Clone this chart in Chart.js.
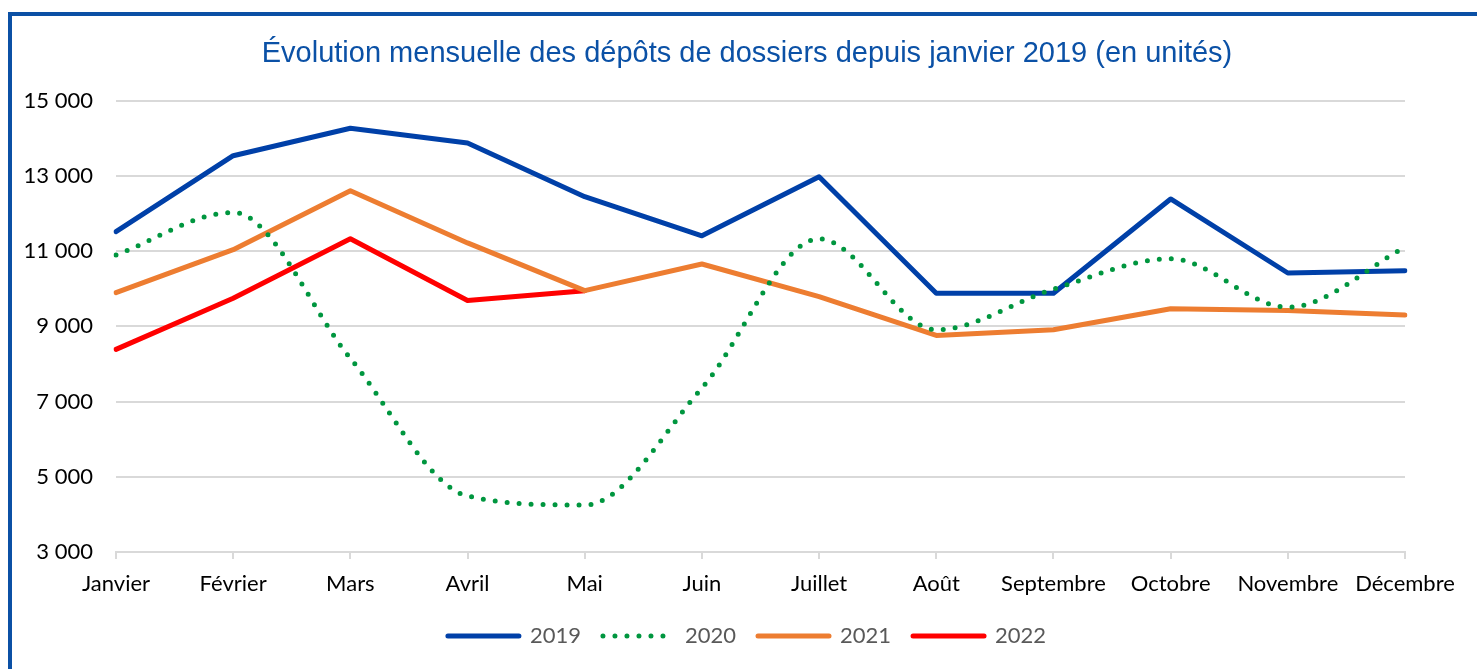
<!DOCTYPE html>
<html lang="fr">
<head>
<meta charset="utf-8">
<title>Dépôts de dossiers</title>
<script src="https://cdn.jsdelivr.net/npm/chart.js@4.4.1/dist/chart.umd.min.js"></script>
<style>
  html, body { margin: 0; padding: 0; background: #fff; overflow: hidden; }
  #frame { position: absolute; left: 8px; top: 12px; width: 1600px; height: 800px; border: 4px solid #0B50A5; box-sizing: border-box; }
  #wrap { position: absolute; left: 0; top: 0; width: 1477px; height: 669px; }
</style>
</head>
<body>
<div id="frame"></div>
<div id="wrap"><canvas id="line-chart"></canvas></div>
<script>
var months = ["Janvier", "Février", "Mars", "Avril", "Mai", "Juin", "Juillet", "Août", "Septembre", "Octobre", "Novembre", "Décembre"];
var values2019 = [11520, 13540, 14270, 13880, 12450, 11410, 12980, 9880, 9880, 12390, 10420, 10480];
var values2020 = [10900, 12030, 8150, 4490, 4250, 7360, 11330, 8910, 9990, 10800, 9510, 11100];
var values2021 = [9900, 11040, 12610, 11220, 9950, 10660, 9790, 8760, 8910, 9470, 9420, 9300];
var values2022 = [8390, 9750, 11330, 9690, 9950];
var yMin = 3000;
var yMax = 15000;
var yStep = 2000;

var axisFont = { family: "Lato", size: 22 };

function formatNumber(v) {
  return String(v).replace(/\B(?=(\d{3})+(?!\d))/g, " ");
}

function lineSet(label, data, color) {
  return {
    label: label,
    data: data,
    borderColor: color,
    backgroundColor: color,
    borderWidth: 5,
    borderJoinStyle: "round",
    borderCapStyle: "round",
    pointRadius: 0,
    pointHoverRadius: 0,
    fill: false,
    tension: 0,
    order: 1
  };
}

var set2020 = lineSet("2020", values2020, "#00963F");
set2020.borderDash = [0, 12];
set2020.cubicInterpolationMode = "monotone";
set2020.order = 0;

// the y labels sit left of the layout padding, so widen the y scale box for its clip
var yLabelRoom = {
  id: "yLabelRoom",
  afterLayout: function (c) {
    var y = c.scales.y;
    y.left = 0;
    y.width = y.right;
  }
};

var chart = new Chart(document.getElementById("line-chart"), {
  type: "line",
  data: {
    labels: months,
    datasets: [
      lineSet("2019", values2019, "#0040A8"),
      set2020,
      lineSet("2021", values2021, "#ED7D31"),
      lineSet("2022", values2022, "#FF0000")
    ]
  },
  plugins: [yLabelRoom],
  options: {
    responsive: true,
    maintainAspectRatio: false,
    animation: false,
    layout: { padding: { left: 89, right: 72, top: 0, bottom: 12 } },
    plugins: {
      title: {
        display: true,
        text: "Évolution mensuelle des dépôts de dossiers depuis janvier 2019 (en unités)",
        color: "#0B51A6",
        font: { family: "Liberation Sans", size: 29, weight: "normal" },
        padding: { top: 37, bottom: 29 }
      },
      legend: {
        position: "bottom",
        labels: {
          usePointStyle: true,
          pointStyle: "line",
          pointStyleWidth: 71,
          color: "#595959",
          font: axisFont,
          padding: 22,
          sort: function (a, b) { return a.datasetIndex - b.datasetIndex; },
          generateLabels: function (c) {
            var items = Chart.defaults.plugins.legend.labels.generateLabels(c);
            items.forEach(function (it) {
              var ds = c.data.datasets[it.datasetIndex];
              it.lineDash = ds.borderDash || [];
              it.lineCap = ds.borderCapStyle;
              it.lineWidth = ds.borderWidth;
              it.strokeStyle = ds.borderColor;
              it.fillStyle = ds.borderColor;
            });
            return items;
          }
        }
      },
      tooltip: { enabled: false }
    },
    scales: {
      x: {
        grid: { drawOnChartArea: false, color: "#d9d9d9", lineWidth: 2, tickLength: 7 },
        border: { color: "#d9d9d9", width: 2 },
        ticks: { color: "#000", font: axisFont, padding: 12, maxRotation: 0, autoSkip: false },
        afterFit: function (s) { s.height = 51; }
      },
      y: {
        min: yMin,
        max: yMax,
        grid: { color: "#d9d9d9", lineWidth: 2, drawTicks: false },
        border: { display: false },
        ticks: {
          stepSize: yStep,
          color: "#000",
          font: axisFont,
          padding: 23,
          callback: function (v) { return formatNumber(v); }
        },
        afterFit: function (s) { s.width = 27; }
      }
    }
  }
});
</script>
</body>
</html>
